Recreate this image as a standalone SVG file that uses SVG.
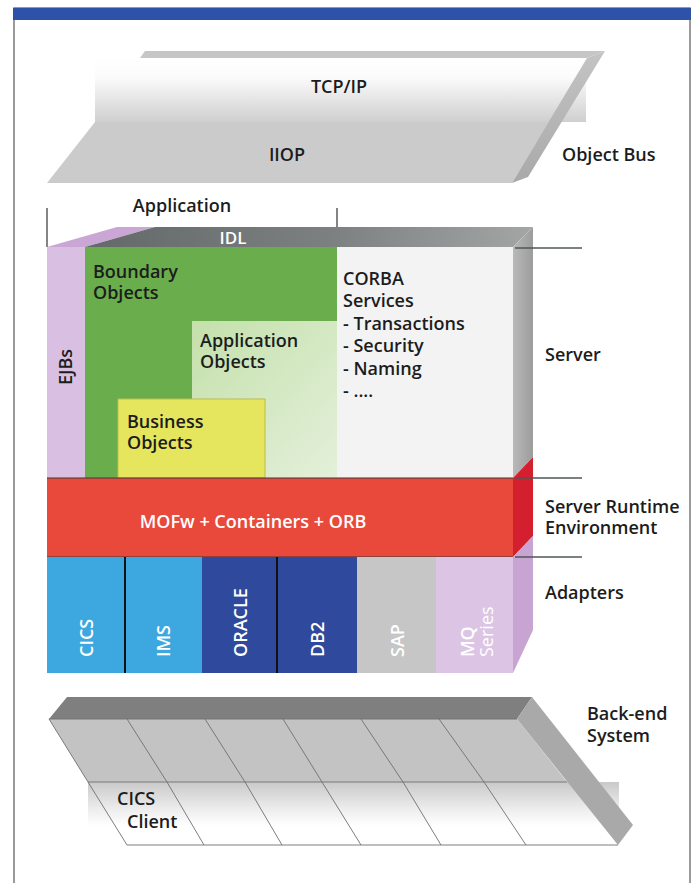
<svg xmlns="http://www.w3.org/2000/svg" width="699" height="883" viewBox="0 0 699 883">
<defs>
  <linearGradient id="tcpGrad" x1="0" y1="0" x2="0" y2="1">
    <stop offset="0" stop-color="#ffffff"/>
    <stop offset="0.3" stop-color="#fbfbfb"/>
    <stop offset="1" stop-color="#cfcfcf"/>
  </linearGradient>
  <linearGradient id="busSide" x1="0" y1="0" x2="0" y2="1">
    <stop offset="0" stop-color="#c4c4c4"/>
    <stop offset="1" stop-color="#a9a9a9"/>
  </linearGradient>
  <linearGradient id="idlGrad" x1="0" y1="0" x2="1" y2="0">
    <stop offset="0" stop-color="#636868"/>
    <stop offset="0.55" stop-color="#7c8080"/>
    <stop offset="1" stop-color="#a4a6a6"/>
  </linearGradient>
  <linearGradient id="sideGrad" x1="0" y1="0" x2="1" y2="0">
    <stop offset="0" stop-color="#b9b9b9"/>
    <stop offset="1" stop-color="#9c9c9c"/>
  </linearGradient>
  <linearGradient id="appGrad" x1="0" y1="0" x2="1" y2="1">
    <stop offset="0" stop-color="#c4e0ab"/>
    <stop offset="1" stop-color="#e4f0da"/>
  </linearGradient>
  <linearGradient id="beGrad" x1="0" y1="0" x2="0" y2="1">
    <stop offset="0" stop-color="#c9c9c9"/>
    <stop offset="0.6" stop-color="#ececec"/>
    <stop offset="1" stop-color="#ffffff"/>
  </linearGradient>
</defs>
<style>
  text { font-family: "Open Sans", "Liberation Sans", sans-serif; font-weight: 600; font-size: 18px; fill: #1c1c1c; }
  .w { fill: #ffffff; }
  .m { text-anchor: middle; }
  .div { stroke: #4f5757; stroke-width: 1.5; fill: none; }
  .grid { stroke: #6f6f6f; stroke-width: 0.9; fill: none; }
  .edge { stroke: #3a3a3a; stroke-width: 1.2; }
</style>

<g id="frame">
  <rect x="14" y="8" width="676" height="900" fill="#ffffff" stroke="#7a7a7a" stroke-width="1.5"/>
  <rect x="13" y="8" width="678" height="12" fill="#2d52a8"/>
</g>

<g id="object-bus">
  <polygon points="145,51 605,51 587,58 140,58" fill="#c6c6c6"/>
  <rect x="95" y="58" width="491" height="64" fill="url(#tcpGrad)"/>
  <polygon points="95,122 549,122 512,183 47,183" fill="#cbcbcb"/>
  <polygon points="587,58 605,51 528,177 512,183" fill="url(#busSide)"/>
  <text class="m" x="339" y="93">TCP/IP</text>
  <text class="m" x="287" y="161">IIOP</text>
  <text x="562" y="161">Object Bus</text>
</g>

<g id="application-label">
  <line x1="47" y1="208" x2="47" y2="247" stroke="#333" stroke-width="1.2"/>
  <line x1="337" y1="208" x2="337" y2="227" stroke="#333" stroke-width="1.2"/>
  <text class="m" x="182" y="212">Application</text>
</g>

<g id="server">
  <polygon points="47,247 117,227 155,227 85,247" fill="#caa6d4"/>
  <polygon points="85,247 155,227 533,227 513,247" fill="url(#idlGrad)"/>
  <text class="w m" x="233" y="244" style="font-size:17px">IDL</text>
  <polygon points="513,247 533,227 533,457 513,478" fill="url(#sideGrad)"/>
  <g id="ejbs">
    <rect x="47" y="247" width="38" height="231" fill="#d9bfe1"/>
    <text transform="translate(72,385) rotate(-90)">EJBs</text>
  </g>
  <g id="boundary-objects">
    <rect x="85" y="247" width="252" height="231" fill="#6aad4c"/>
    <text x="93" y="278">Boundary</text>
    <text x="93" y="299">Objects</text>
  </g>
  <g id="application-objects">
    <rect x="192" y="321" width="145" height="157" fill="url(#appGrad)"/>
    <text x="200" y="347">Application</text>
    <text x="200" y="368">Objects</text>
  </g>
  <g id="business-objects">
    <rect x="118" y="399" width="147" height="79" fill="#e6e65e" stroke="#b9bb4c" stroke-width="1"/>
    <text x="127" y="428">Business</text>
    <text x="127" y="449">Objects</text>
  </g>
  <g id="corba-services">
    <rect x="337" y="247" width="176" height="231" fill="#f3f3f3"/>
    <text x="343" y="285">CORBA</text>
    <text x="343" y="307">Services</text>
    <text x="343" y="330">- Transactions</text>
    <text x="343" y="352">- Security</text>
    <text x="343" y="375">- Naming</text>
    <text x="343" y="397">- ....</text>
  </g>
  <text x="545" y="361">Server</text>
</g>

<g id="runtime">
  <polygon points="513,478 533,457 533,536 513,557" fill="#d41f2f"/>
  <rect x="47" y="478" width="466" height="79" fill="#e9493b"/>
  <line class="edge" x1="47" y1="478" x2="513" y2="478"/>
  <line class="edge" x1="47" y1="557" x2="513" y2="557"/>
  <text class="w m" x="253" y="528">MOFw + Containers + ORB</text>
  <text x="545" y="513">Server Runtime</text>
  <text x="545" y="534">Environment</text>
</g>

<g id="adapters">
  <polygon points="513,557 533,536 533,630 513,673" fill="#c8a4d2"/>
  <rect x="47" y="557" width="78" height="116" fill="#3ca8df"/>
  <rect x="125" y="557" width="77" height="116" fill="#3ca8df"/>
  <rect x="202" y="557" width="75" height="116" fill="#2f4a9c"/>
  <rect x="277" y="557" width="80" height="116" fill="#2f4a9c"/>
  <rect x="357" y="557" width="79" height="116" fill="#c6c6c6"/>
  <rect x="436" y="557" width="77" height="116" fill="#dcc5e4"/>
  <line x1="125" y1="557" x2="125" y2="673" stroke="#111" stroke-width="2"/>
  <line x1="277" y1="557" x2="277" y2="673" stroke="#111" stroke-width="2"/>
  <text class="w" transform="translate(93,657) rotate(-90)">CICS</text>
  <text class="w" transform="translate(170,657) rotate(-90)">IMS</text>
  <text class="w" transform="translate(247,657) rotate(-90)">ORACLE</text>
  <text class="w" transform="translate(324,657) rotate(-90)">DB2</text>
  <text class="w" transform="translate(404,657) rotate(-90)">SAP</text>
  <text class="w" transform="translate(474,657) rotate(-90)">MQ</text>
  <text class="w" transform="translate(493,657) rotate(-90)" style="font-weight:500">Series</text>
  <text x="545" y="599">Adapters</text>
</g>

<g id="dividers">
  <line class="div" x1="515" y1="248" x2="582" y2="248"/>
  <line class="div" x1="515" y1="478" x2="582" y2="478"/>
  <line class="div" x1="515" y1="557" x2="582" y2="557"/>
</g>

<g id="backend-system">
  <polygon points="67,697 532,697 517,719 49,719" fill="#7f7f7f"/>
  <polygon points="49,719 517,719 567,782 88,782" fill="#c3c3c3"/>
  <rect x="88" y="782" width="531" height="44" fill="url(#beGrad)"/>
  <polygon points="517,719 532,697 633,825 618,845" fill="#a9a9a9"/>
  <polyline class="grid" points="49,719 88,782 127,845 618,845"/>
  <line class="grid" x1="88" y1="782" x2="567" y2="782"/>
  <polyline class="grid" points="127,719 167,782 204,845"/>
  <polyline class="grid" points="205,719 245,782 282,845"/>
  <polyline class="grid" points="283,719 322,782 361,845"/>
  <polyline class="grid" points="361,719 403,782 441,845"/>
  <polyline class="grid" points="439,719 484,782 526,845"/>
  <line class="grid" x1="49" y1="719" x2="517" y2="719"/>
  <text x="117" y="805">CICS</text>
  <text x="127" y="828">Client</text>
  <text x="587" y="720">Back-end</text>
  <text x="587" y="742">System</text>
</g>
</svg>
